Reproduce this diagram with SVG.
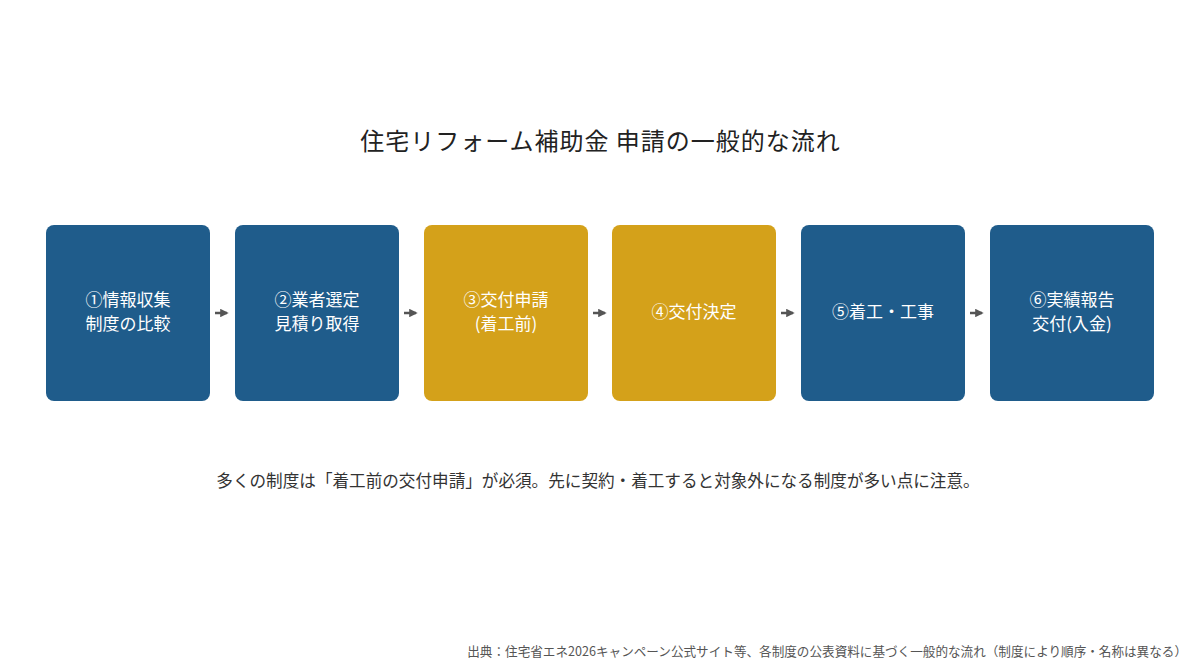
<svg xmlns="http://www.w3.org/2000/svg" width="1200" height="672" viewBox="0 0 1200 672">
<style>
.t{font-family:"Noto Sans CJK JP","Noto Sans",sans-serif}
.node text{font-family:"Noto Sans CJK JP","Noto Sans",sans-serif;font-size:17px;fill:#ffffff;text-anchor:middle}
.blue{fill:#1F5C8B}
.gold{fill:#D4A11A}
.conn{stroke:#555555;stroke-width:2.5;fill:none}
</style>
<defs>
<marker id="ah" viewBox="0 0 10 10" refX="8" refY="5" markerWidth="3.4" markerHeight="3.4" orient="auto" markerUnits="strokeWidth">
<path d="M0,0 L10,5 L0,10 z" fill="#555555"/>
</marker>
</defs>
<rect width="1200" height="672" fill="#ffffff"/>
<text class="t" x="600.5" y="150" font-size="24" letter-spacing="1" fill="#222222" text-anchor="middle">住宅リフォーム補助金 申請の一般的な流れ</text>
<g id="node1" class="node"><rect class="blue" x="46" y="225" width="164" height="176" rx="8"/><text x="128" y="306">①情報収集</text><text x="128" y="330">制度の比較</text></g>
<g id="node2" class="node"><rect class="blue" x="235" y="225" width="164" height="176" rx="8"/><text x="317" y="306">②業者選定</text><text x="317" y="330">見積り取得</text></g>
<g id="node3" class="node"><rect class="gold" x="424" y="225" width="164" height="176" rx="8"/><text x="506" y="306">③交付申請</text><text x="506" y="330">(着工前)</text></g>
<g id="node4" class="node"><rect class="gold" x="612" y="225" width="164" height="176" rx="8"/><text x="694" y="318">④交付決定</text></g>
<g id="node5" class="node"><rect class="blue" x="801" y="225" width="164" height="176" rx="8"/><text x="883" y="318">⑤着工・工事</text></g>
<g id="node6" class="node"><rect class="blue" x="990" y="225" width="164" height="176" rx="8"/><text x="1072" y="306">⑥実績報告</text><text x="1072" y="330">交付(入金)</text></g>
<g id="connectors">
<line class="conn" x1="215" y1="313" x2="227" y2="313" marker-end="url(#ah)"/>
<line class="conn" x1="404" y1="313" x2="416" y2="313" marker-end="url(#ah)"/>
<line class="conn" x1="593" y1="313" x2="605" y2="313" marker-end="url(#ah)"/>
<line class="conn" x1="781" y1="313" x2="793" y2="313" marker-end="url(#ah)"/>
<line class="conn" x1="970" y1="313" x2="982" y2="313" marker-end="url(#ah)"/>
</g>
<text class="t" x="598" y="487" font-size="16.6" fill="#333333" text-anchor="middle">多くの制度は「着工前の交付申請」が必須。先に契約・着工すると対象外になる制度が多い点に注意。</text>
<text class="t" x="1187" y="656" font-size="12.6" fill="#555555" text-anchor="end">出典：住宅省エネ2026キャンペーン公式サイト等、各制度の公表資料に基づく一般的な流れ（制度により順序・名称は異なる）</text>
</svg>
